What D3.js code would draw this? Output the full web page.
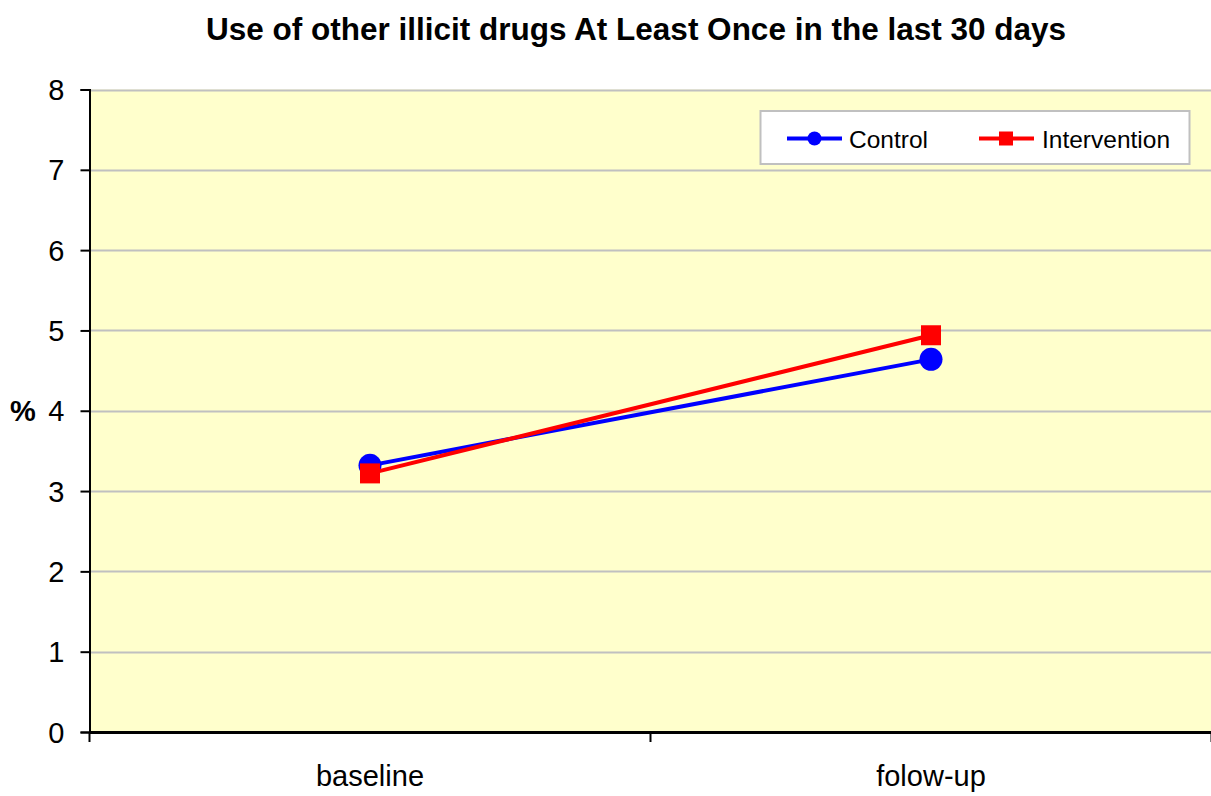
<!DOCTYPE html>
<html>
<head>
<meta charset="utf-8">
<script src="https://cdn.jsdelivr.net/npm/d3@7"></script>
<style>
  html, body { margin: 0; padding: 0; background: #fff; }
  svg { display: block; font-family: "Liberation Sans", Arial, sans-serif; }
</style>
</head>
<body>
<svg id="chart" width="1211" height="796"></svg>
<script>
// Chart data
const categories = ["baseline", "folow-up"];
const controlValues = [3.32, 4.64];
const interventionValues = [3.22, 4.94];
const yTicks = [0, 1, 2, 3, 4, 5, 6, 7, 8];
const seriesNames = ["Control", "Intervention"];

const svg = d3.select("#chart");
const plot = { left: 89.5, right: 1211.5, top: 89.5, bottom: 732 };

const x = d3.scaleBand().domain(categories).range([plot.left, plot.right]);
const y = d3.scaleLinear().domain([0, 8]).range([plot.bottom, plot.top]);

// Title
svg.append("text")
  .attr("x", 636).attr("y", 40)
  .attr("text-anchor", "middle")
  .attr("font-size", 31.5).attr("font-weight", "bold")
  .text("Use of other illicit drugs At Least Once in the last 30 days");

// Plot background
svg.append("rect")
  .attr("x", plot.left).attr("y", plot.top)
  .attr("width", plot.right - plot.left).attr("height", plot.bottom - plot.top)
  .attr("fill", "#ffffcc");

// Horizontal gridlines
svg.append("g").selectAll("line")
  .data(yTicks.filter(d => d > 0))
  .join("line")
  .attr("x1", plot.left).attr("x2", plot.right)
  .attr("y1", d => Math.round(y(d)) + 0.5).attr("y2", d => Math.round(y(d)) + 0.5)
  .attr("stroke", "#c0c0c0").attr("stroke-width", 2);

// Y axis
const yAxis = svg.append("g")
  .attr("transform", `translate(${plot.left},0)`)
  .call(d3.axisLeft(y).tickValues(yTicks).tickSize(9).tickPadding(16).tickFormat(d3.format("d")));
yAxis.attr("font-size", null).attr("font-family", null);
yAxis.select(".domain").attr("stroke", "#000").attr("stroke-width", 2);
yAxis.selectAll(".tick line").attr("stroke", "#000").attr("stroke-width", 2);
yAxis.selectAll(".tick text").attr("font-size", 29).attr("fill", "#000").attr("dy", "0.35em");

// X axis
const xAxis = svg.append("g")
  .attr("transform", `translate(0,${plot.bottom})`)
  .call(d3.axisBottom(x).tickSize(0).tickPadding(33));
xAxis.attr("font-size", null).attr("font-family", null);
xAxis.select(".domain").attr("stroke", "#000").attr("stroke-width", 3);
xAxis.selectAll(".tick text").attr("font-size", 29).attr("fill", "#000");
// Category boundary ticks
const boundaries = [x.range()[0]].concat(categories.map(c => x(c) + x.bandwidth()));
xAxis.append("g").selectAll("line")
  .data(boundaries)
  .join("line")
  .attr("x1", d => d).attr("x2", d => d)
  .attr("y1", 0).attr("y2", 10)
  .attr("stroke", "#000").attr("stroke-width", 2);

// Y axis label
svg.append("text")
  .attr("x", 23).attr("y", 421)
  .attr("text-anchor", "middle")
  .attr("font-size", 29).attr("font-weight", "bold")
  .text("%");

const cx = c => x(c) + x.bandwidth() / 2;
const line = d3.line().x(d => cx(d.c)).y(d => y(d.v));

const control = categories.map((c, i) => ({ c, v: controlValues[i] }));
const intervention = categories.map((c, i) => ({ c, v: interventionValues[i] }));

// Control series
svg.append("path").datum(control)
  .attr("d", line).attr("fill", "none")
  .attr("stroke", "#0000ff").attr("stroke-width", 4);
svg.append("g").selectAll("circle").data(control).join("circle")
  .attr("cx", d => cx(d.c)).attr("cy", d => y(d.v)).attr("r", 11.5)
  .attr("fill", "#0000ff");

// Intervention series
svg.append("path").datum(intervention)
  .attr("d", line).attr("fill", "none")
  .attr("stroke", "#ff0000").attr("stroke-width", 4);
svg.append("g").selectAll("rect").data(intervention).join("rect")
  .attr("x", d => cx(d.c) - 10).attr("y", d => y(d.v) - 10)
  .attr("width", 20).attr("height", 20)
  .attr("fill", "#ff0000");

// Legend
const legend = svg.append("g");
legend.append("rect")
  .attr("x", 760.5).attr("y", 111).attr("width", 429).attr("height", 53)
  .attr("fill", "#fff").attr("stroke", "#c0c0c0").attr("stroke-width", 2);
const ly = 138.5;
// Control entry
legend.append("line").attr("x1", 787).attr("x2", 842).attr("y1", ly).attr("y2", ly)
  .attr("stroke", "#0000ff").attr("stroke-width", 4);
legend.append("circle").attr("cx", 814.5).attr("cy", ly).attr("r", 7).attr("fill", "#0000ff");
legend.append("text").attr("x", 849).attr("y", ly + 9)
  .attr("font-size", 24.5).text(seriesNames[0]);
// Intervention entry
legend.append("line").attr("x1", 979).attr("x2", 1034).attr("y1", ly).attr("y2", ly)
  .attr("stroke", "#ff0000").attr("stroke-width", 4);
legend.append("rect").attr("x", 999).attr("y", ly - 7).attr("width", 14).attr("height", 14).attr("fill", "#ff0000");
legend.append("text").attr("x", 1042).attr("y", ly + 9)
  .attr("font-size", 24.5).text(seriesNames[1]);
</script>
</body>
</html>
